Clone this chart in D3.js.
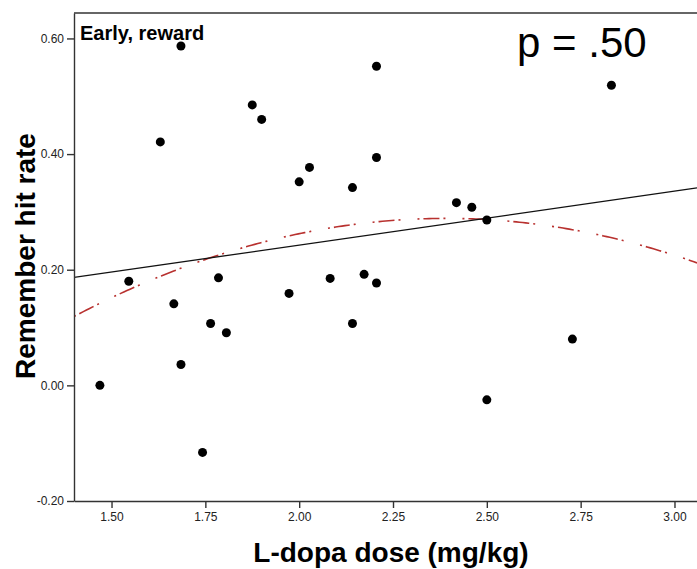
<!DOCTYPE html>
<html>
<head>
<meta charset="utf-8">
<script src="https://cdn.jsdelivr.net/npm/d3@7"></script>
<style>
    body { margin: 0; background: #fff; }
    text { font-family: "Liberation Sans", Arial, sans-serif; }
</style>
</head>
<body>
<svg id="SVGscatter" width="697" height="569"></svg>
<script>
"use strict";

// L-dopa dose (mg/kg) and remember hit rate, one entry per subject
const doseX = [1.469, 1.546, 1.630, 1.666, 1.685, 1.685, 1.7425, 1.764, 1.785, 1.806,
    1.875, 1.900, 1.973, 2.000, 2.0275, 2.0825, 2.142, 2.142, 2.173, 2.206,
    2.206, 2.206, 2.419, 2.460, 2.500, 2.500, 2.728, 2.832];
const hitRate = [0.000, 0.180, 0.421, 0.141, 0.587, 0.036, -0.116, 0.107, 0.186, 0.091,
    0.485, 0.460, 0.159, 0.352, 0.377, 0.185, 0.342, 0.107, 0.192, 0.552,
    0.394, 0.177, 0.316, 0.308, 0.286, -0.025, 0.080, 0.519];
const xTicks = [1.50, 1.75, 2.00, 2.25, 2.50, 2.75, 3.00];
const yTicks = [-0.20, 0.00, 0.20, 0.40, 0.60];
const panelTitle = "Early, reward";
const pLabel = "p = .50";

const chart = {
    SVG: d3.select("#SVGscatter"),
    left: 74, top: 13, right: 697, bottom: 501,
    render: () => {
        const svg = chart.SVG;
        const x = d3.scaleLinear().domain([1.40, 3.06]).range([chart.left, chart.right]);
        const y = d3.scaleLinear().domain([-0.20, 0.644]).range([chart.bottom, chart.top]);
        const points = doseX.map((d, i) => ({ x: d, y: hitRate[i] }));

        // clip for fit lines
        svg.append("clipPath").attr("id", "plotClip")
            .append("rect")
            .attr("x", chart.left).attr("y", chart.top)
            .attr("width", chart.right - chart.left).attr("height", chart.bottom - chart.top);

        // linear least squares
        const n = points.length;
        const mx = d3.mean(points, d => d.x), my = d3.mean(points, d => d.y);
        const sxy = d3.sum(points, d => (d.x - mx) * (d.y - my));
        const sxx = d3.sum(points, d => (d.x - mx) * (d.x - mx));
        const b1 = sxy / sxx, b0 = my - b1 * mx;

        // quadratic least squares (normal equations)
        const S = k => d3.sum(points, d => Math.pow(d.x, k));
        const T = k => d3.sum(points, d => Math.pow(d.x, k) * d.y);
        const A = [[n, S(1), S(2)], [S(1), S(2), S(3)], [S(2), S(3), S(4)]];
        const B = [T(0), T(1), T(2)];
        const det3 = m => m[0][0] * (m[1][1] * m[2][2] - m[1][2] * m[2][1])
            - m[0][1] * (m[1][0] * m[2][2] - m[1][2] * m[2][0])
            + m[0][2] * (m[1][0] * m[2][1] - m[1][1] * m[2][0]);
        const D = det3(A);
        const coef = [0, 1, 2].map(c => det3(A.map((row, r) => row.map((v, j) => j === c ? B[r] : v))) / D);

        const xs = d3.range(0, 201).map(i => 1.40 + (3.06 - 1.40) * i / 200);

        svg.append("path")
            .attr("clip-path", "url(#plotClip)")
            .attr("d", d3.line()(xs.map(v => [x(v), y(coef[0] + coef[1] * v + coef[2] * v * v)])))
            .style("fill", "none")
            .style("stroke", "#b8312f")
            .style("stroke-width", 1.6)
            .style("stroke-dasharray", "2,4,16,4,2,17");

        svg.append("path")
            .attr("clip-path", "url(#plotClip)")
            .attr("d", d3.line()([[x(1.40), y(b0 + b1 * 1.40)], [x(3.06), y(b0 + b1 * 3.06)]]))
            .style("fill", "none")
            .style("stroke", "#111")
            .style("stroke-width", 1.3);

        // points
        svg.selectAll(".dot").data(points).enter()
            .append("circle")
            .attr("class", "dot")
            .attr("cx", d => x(d.x))
            .attr("cy", d => y(d.y))
            .attr("r", 4.5)
            .style("fill", "#000");

        // frame: top border
        svg.append("line")
            .attr("x1", chart.left).attr("x2", chart.right)
            .attr("y1", chart.top).attr("y2", chart.top)
            .style("stroke", "#333").style("stroke-width", 1.4);

        // axes
        const fmt = d => d.toFixed(2);
        const yAxis = svg.append("g")
            .attr("transform", "translate(" + chart.left + ",0)")
            .call(d3.axisLeft(y).tickValues(yTicks).tickFormat(fmt).tickSize(7).tickSizeOuter(0).tickPadding(3));
        const xAxis = svg.append("g")
            .attr("transform", "translate(0," + chart.bottom + ")")
            .call(d3.axisBottom(x).tickValues(xTicks).tickFormat(fmt).tickSize(7).tickSizeOuter(0).tickPadding(4));
        [xAxis, yAxis].forEach(g => {
            g.select(".domain").style("stroke", "#333").style("stroke-width", 1.4);
            g.selectAll(".tick line").style("stroke", "#333").style("stroke-width", 1.4);
            g.selectAll(".tick text")
                .style("font-family", "'Liberation Sans', Arial, sans-serif")
                .style("font-size", "12px")
                .style("fill", "#222");
        });

        // axis titles
        svg.append("text")
            .attr("x", 391).attr("y", 562)
            .attr("text-anchor", "middle")
            .style("font-size", "28px").style("font-weight", "bold")
            .text("L-dopa dose (mg/kg)");
        svg.append("text")
            .attr("transform", "translate(35,256) rotate(-90)")
            .attr("text-anchor", "middle")
            .style("font-size", "28px").style("font-weight", "bold")
            .text("Remember hit rate");

        // panel annotations
        svg.append("text")
            .attr("x", 80).attr("y", 40)
            .style("font-size", "20px").style("font-weight", "bold")
            .text(panelTitle);
        svg.append("text")
            .attr("x", 517).attr("y", 57)
            .style("font-size", "42px")
            .text(pLabel);
    }
};

chart.render();
</script>
</body>
</html>
